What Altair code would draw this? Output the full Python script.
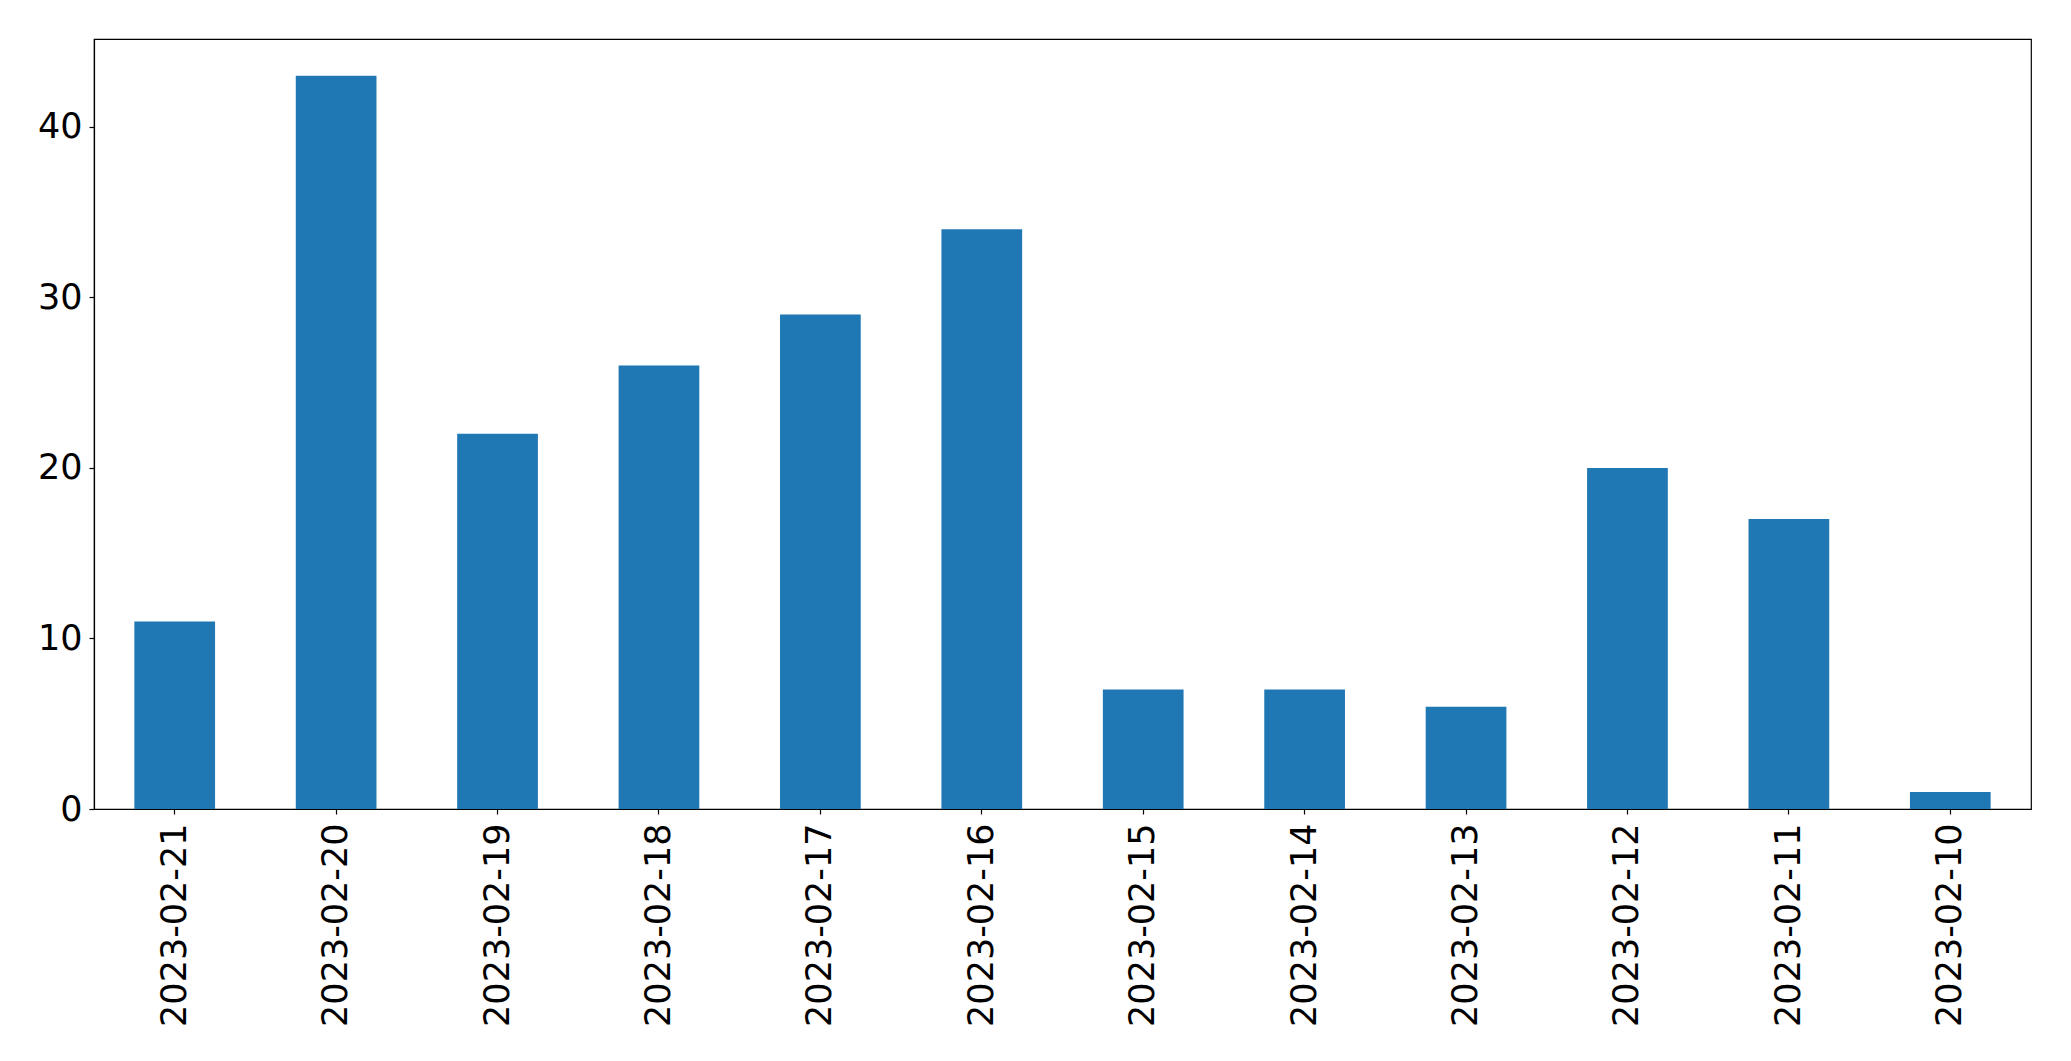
import altair as alt
import pandas as pd

dates = ["2023-02-21", "2023-02-20", "2023-02-19", "2023-02-18", "2023-02-17", "2023-02-16",
         "2023-02-15", "2023-02-14", "2023-02-13", "2023-02-12", "2023-02-11", "2023-02-10"]
counts = [11, 43, 22, 26, 29, 34, 7, 7, 6, 20, 17, 1]

df = pd.DataFrame({"date": dates, "count": counts})

chart = alt.Chart(df).mark_bar(color="#1f77b4").encode(
    x=alt.X("date:N", sort=dates, title=None,
            scale=alt.Scale(paddingInner=0.5, paddingOuter=0.25),
            axis=alt.Axis(labelAngle=-90, labelAlign="right", labelBaseline="middle",
                          labelPadding=9, tickSize=5, labelFontSize=35, labelLimit=0,
                          labelFont="DejaVu Sans", labelColor="black",
                          domainColor="black", tickColor="black")),
    y=alt.Y("count:Q", title=None,
            scale=alt.Scale(domain=[0, 45.15], nice=False, zero=True),
            axis=alt.Axis(values=[0, 10, 20, 30, 40], tickSize=5, labelPadding=7,
                          labelFontSize=35, labelFont="DejaVu Sans", labelColor="black",
                          domainColor="black", tickColor="black", grid=False)),
).properties(
    width=1937, height=770,
    autosize=alt.AutoSizeParams(type="none"),
    padding={"left": 86, "top": 31, "right": 16, "bottom": 236},
).configure_view(
    stroke="black", strokeWidth=1.2
).configure_axis(
    domainWidth=1.2, tickWidth=1.2
)

chart.save("out.html", embed_options={"renderer": "svg", "actions": False})
